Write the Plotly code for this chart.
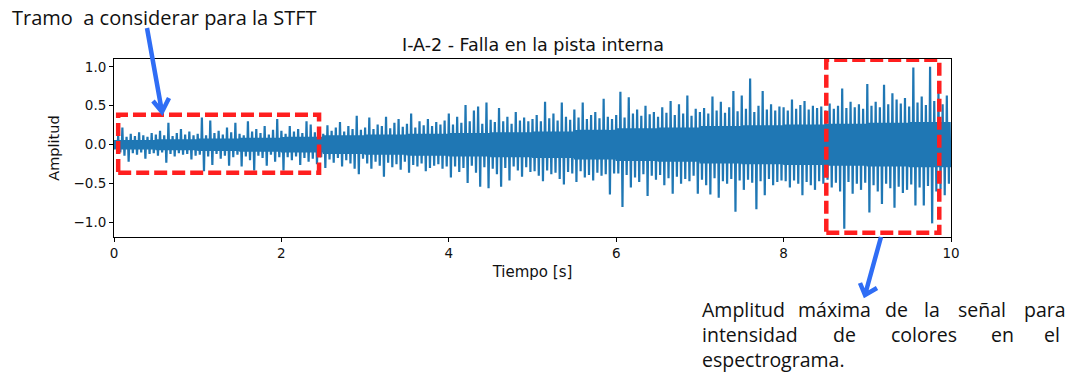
import plotly.graph_objects as go

# Vibration record I-A-2 (inner race fault): positive and negative peak
# amplitudes, one pair every 0.05 s over the 10 s record.
step = 0.05
top_peaks = [
    # 0-1 s
    0.06, 0.12, 0.22, 0.10, 0.14, 0.11, 0.16, 0.12, 0.10, 0.15,
    0.13, 0.18, 0.12, 0.28, 0.11, 0.15, 0.20, 0.13, 0.17, 0.12,
    # 1-2 s
    0.14, 0.35, 0.12, 0.31, 0.15, 0.18, 0.13, 0.22, 0.16, 0.28,
    0.14, 0.12, 0.30, 0.17, 0.20, 0.15, 0.24, 0.13, 0.19, 0.33,
    # 2-3 s
    0.18, 0.14, 0.24, 0.17, 0.20, 0.15, 0.30, 0.26, 0.16, 0.19,
    0.14, 0.25, 0.18, 0.22, 0.29, 0.17, 0.24, 0.20, 0.37, 0.19,
    # 3-4 s
    0.22, 0.35, 0.20, 0.26, 0.24, 0.36, 0.21, 0.28, 0.33, 0.23,
    0.27, 0.40, 0.22, 0.30, 0.25, 0.33, 0.24, 0.29, 0.26, 0.31,
    # 4-5 s
    0.40, 0.26, 0.36, 0.28, 0.51, 0.30, 0.44, 0.49, 0.27, 0.54,
    0.32, 0.29, 0.47, 0.30, 0.36, 0.27, 0.42, 0.31, 0.35, 0.30,
    # 5-6 s
    0.33, 0.38, 0.30, 0.55, 0.34, 0.40, 0.31, 0.54, 0.36, 0.32,
    0.45, 0.35, 0.54, 0.33, 0.38, 0.42, 0.34, 0.59, 0.36, 0.33,
    # 6-7 s
    0.38, 0.68, 0.35, 0.61, 0.40, 0.45, 0.37, 0.50, 0.39, 0.42,
    0.36, 0.48, 0.41, 0.56, 0.38, 0.52, 0.40, 0.63, 0.37, 0.46,
    # 7-8 s
    0.42, 0.47, 0.40, 0.62, 0.44, 0.55, 0.41, 0.48, 0.69, 0.43,
    0.63, 0.46, 0.85, 0.42, 0.50, 0.69, 0.45, 0.52, 0.44, 0.49,
    # 8-9 s
    0.48, 0.44, 0.58, 0.46, 0.51, 0.56, 0.45, 0.50, 0.47, 0.49,
    0.44, 0.53, 0.46, 0.50, 0.72, 0.47, 0.55, 0.48, 0.52, 0.46,
    # 9-10 s
    0.78, 0.50, 0.55, 0.48, 0.77, 0.52, 0.66, 0.58, 0.53, 0.60,
    0.49, 0.99, 0.54, 0.62, 0.51, 1.00, 0.56, 0.68, 0.52, 0.63,
]
bottom_peaks = [
    # 0-1 s
    -0.05, -0.10, -0.14, -0.22, -0.11, -0.13, -0.10, -0.18, -0.12, -0.11,
    -0.14, -0.10, -0.23, -0.12, -0.15, -0.11, -0.13, -0.12, -0.19, -0.14,
    # 1-2 s
    -0.13, -0.34, -0.15, -0.26, -0.12, -0.18, -0.14, -0.27, -0.16, -0.13,
    -0.28, -0.15, -0.20, -0.33, -0.14, -0.17, -0.27, -0.13, -0.22, -0.16,
    # 2-3 s
    -0.33, -0.16, -0.20, -0.15, -0.26, -0.17, -0.22, -0.18, -0.25, -0.16,
    -0.30, -0.19, -0.23, -0.17, -0.28, -0.20, -0.24, -0.31, -0.38, -0.18,
    # 3-4 s
    -0.24, -0.31, -0.22, -0.27, -0.41, -0.23, -0.29, -0.25, -0.32, -0.22,
    -0.36, -0.26, -0.28, -0.24, -0.34, -0.30, -0.27, -0.25, -0.31, -0.28,
    # 4-5 s
    -0.42, -0.28, -0.35, -0.30, -0.49, -0.27, -0.36, -0.54, -0.29, -0.56,
    -0.31, -0.38, -0.54, -0.30, -0.46, -0.28, -0.33, -0.41, -0.29, -0.35,
    # 5-6 s
    -0.34, -0.40, -0.47, -0.33, -0.38, -0.36, -0.44, -0.51, -0.35, -0.37,
    -0.48, -0.34, -0.42, -0.39, -0.46, -0.36, -0.40, -0.38, -0.64, -0.37,
    # 6-7 s
    -0.37, -0.80, -0.39, -0.55, -0.42, -0.48, -0.38, -0.66, -0.40, -0.45,
    -0.39, -0.52, -0.43, -0.63, -0.41, -0.50, -0.44, -0.47, -0.40, -0.63,
    # 7-8 s
    -0.45, -0.52, -0.64, -0.43, -0.68, -0.47, -0.50, -0.44, -0.86, -0.46,
    -0.58, -0.45, -0.49, -0.83, -0.47, -0.65, -0.44, -0.52, -0.48, -0.46,
    # 8-9 s
    -0.47, -0.55, -0.46, -0.50, -0.65, -0.48, -0.52, -0.58, -0.47, -0.50,
    -0.45, -0.55, -0.49, -0.60, -1.08, -0.48, -0.63, -0.50, -0.58, -0.49,
    # 9-10 s
    -0.87, -0.52, -0.60, -0.76, -0.50, -0.56, -0.81, -0.54, -0.62, -0.58,
    -0.51, -0.78, -0.55, -0.78, -0.53, -1.01, -0.60, -0.57, -0.65, -0.50,
]
# Half-height of the dense background vibration band, one value per 0.5 s
band_step = 0.5
band_level = [
    0.06, 0.07, 0.08, 0.09, 0.10, 0.12, 0.13, 0.14, 0.15, 0.16,
    0.17, 0.19, 0.21, 0.22, 0.24, 0.25, 0.26, 0.27, 0.28, 0.29,
]

# Axis ticks
x_ticks = [0, 2, 4, 6, 8, 10]
y_ticks = [-1.0, -0.5, 0.0, 0.5, 1.0]
y_tick_labels = ["\u22121.0", "\u22120.5", "0.0", "0.5", "1.0"]

# Highlighted windows: (t0, t1, a_min, a_max)
stft_window = (0.05, 2.45, -0.36, 0.385)
max_amp_window = (8.51, 9.86, -1.13, 1.09)

title = "I-A-2 - Falla en la pista interna"
note_top = "Tramo  a considerar para la STFT"
note_bottom = [
    ["Amplitud", "máxima", "de", "la", "señal", "para"],
    ["intensidad", "de", "colores", "en", "el"],
    ["espectrograma."],
]

# Build the waveform: in each 0.05 s cell the signal swings to its positive
# peak, crosses the background band, reaches its negative peak and crosses
# the band again.
t, amp = [], []
for i, (hi, lo) in enumerate(zip(top_peaks, bottom_peaks)):
    b = band_level[int(i * step / band_step)]
    cell = [hi, -b, b, lo, b, -b]
    n = len(cell)
    for k, v in enumerate(cell):
        t.append(i * step + k * step / n)
        amp.append(v)

W, H = 1073, 375
PL, PR, PT, PB = 114, 951, 59, 237


def fx(x):
    return (x - PL) / (PR - PL)


def fy(y):
    return (PB - y) / (PB - PT)


fig = go.Figure()
fig.add_trace(go.Scatter(x=t, y=amp, mode="lines",
                         line=dict(color="#1f77b4", width=2.2),
                         hoverinfo="skip", showlegend=False))

axis_common = dict(showline=True, linecolor="black", linewidth=1, mirror=True,
                   ticks="outside", ticklen=4, tickcolor="black", showgrid=False,
                   zeroline=False, tickfont=dict(family="DejaVu Sans", size=13.5, color="#111"))

fig.update_xaxes(range=[0, 10], tickvals=x_ticks, ticktext=[str(v) for v in x_ticks],
                 title=dict(text="Tiempo [s]", font=dict(family="DejaVu Sans", size=15, color="#111"),
                            standoff=6),
                 **axis_common)
fig.update_yaxes(range=[-1.185, 1.10], tickvals=y_ticks, ticktext=y_tick_labels,
                 title=dict(text="Amplitud", font=dict(family="DejaVu Sans", size=14.5, color="#111"),
                            standoff=10),
                 **axis_common)

box_line = dict(color="#ff1f1f", width=4.5, dash="13px,5px")
for (t0, t1, a0, a1) in (stft_window, max_amp_window):
    fig.add_shape(type="rect", xref="x", yref="y", x0=t0, x1=t1, y0=a0, y1=a1,
                  line=box_line, fillcolor="rgba(0,0,0,0)", layer="above")

# Pointer arrows (shaft + open head), drawn in pixel-derived paper coords
arrow_color = "#2f6df5"


def arrow_path(x0, y0, x1, y1, a1, a2):
    return (f"M {fx(x0)} {fy(y0)} L {fx(x1)} {fy(y1)} "
            f"M {fx(a1[0])} {fy(a1[1])} L {fx(x1)} {fy(y1)} L {fx(a2[0])} {fy(a2[1])}")


fig.add_shape(type="path", xref="paper", yref="paper",
              path=arrow_path(147, 28, 162, 112, (153, 101), (169, 98)),
              line=dict(color=arrow_color, width=4.5))
fig.add_shape(type="path", xref="paper", yref="paper",
              path=arrow_path(881, 237, 865, 295, (860, 283), (877, 288)),
              line=dict(color=arrow_color, width=4.5))

annotations = [
    dict(text=title, x=0.5, y=fy(45), xanchor="center", yanchor="middle",
         font=dict(family="DejaVu Sans", size=17.5, color="#111")),
    dict(text=note_top, x=fx(11), y=fy(17), xanchor="left", yanchor="middle",
         font=dict(family="Open Sans", size=20, color="#111")),
]

para_font = dict(family="Open Sans", size=19.5, color="#111")
word_x = [
    [701, 797, 884, 923, 957, 1023],
    [701, 832, 890, 990, 1043],
    [701],
]
line_y = [309, 334, 359]
for words, xs, yy in zip(note_bottom, word_x, line_y):
    for w, xx in zip(words, xs):
        annotations.append(dict(text=w, x=fx(xx), y=fy(yy), xanchor="left", yanchor="middle",
                                font=para_font))

for a in annotations:
    a.update(xref="paper", yref="paper", showarrow=False, borderpad=0)
fig.update_layout(annotations=annotations)

fig.update_layout(width=W, height=H, margin=dict(l=PL, r=W - PR, t=PT, b=H - PB),
                  paper_bgcolor="white", plot_bgcolor="white")

fig.write_html("out.html")
